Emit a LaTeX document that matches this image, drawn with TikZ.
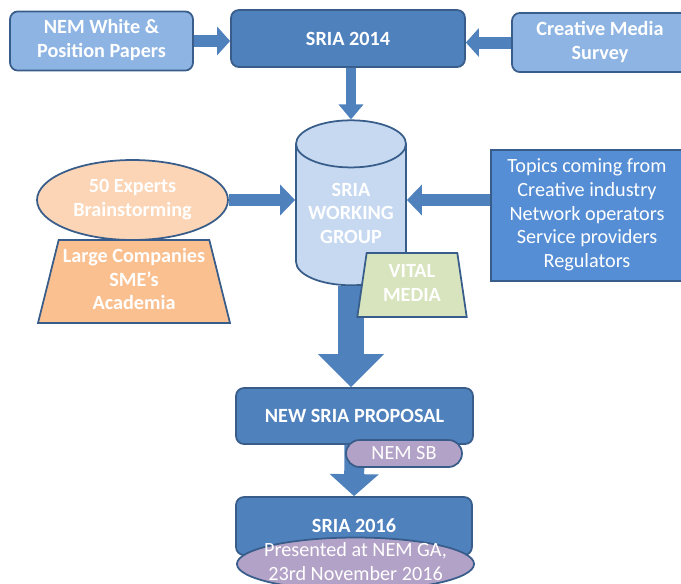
\documentclass[tikz,border=0pt]{standalone}
\usepackage{fontspec}
\setmainfont{Carlito}
\usetikzlibrary{shapes.geometric,shapes.misc,arrows.meta}
\definecolor{edgeblue}{HTML}{385D8A}
\definecolor{midblue}{HTML}{4F81BD}
\definecolor{lightblue}{HTML}{8EB4E3}
\definecolor{topicblue}{HTML}{558ED5}
\definecolor{paleblue}{HTML}{C6D9F1}
\definecolor{peach}{HTML}{FBD5B5}
\definecolor{orangefill}{HTML}{FAC090}
\definecolor{palegreen}{HTML}{D7E4BD}
\definecolor{lilac}{HTML}{B3A2C7}

\begin{document}
\begin{tikzpicture}[x=0.02cm,y=-0.02cm,
		box/.style={draw=edgeblue,line width=1pt,text=white,font=\bfseries\fontsize{11.5}{13.5}\selectfont,align=center},
		thin/.style={box,font=\fontsize{11.5}{13.5}\selectfont},
		barrow/.style args={#1/#2/#3}{draw=midblue,line width=#1,-{Triangle[width=#2,length=#3]}}]
			\useasboundingbox (0,0) rectangle (681,583);
			\clip (0,0) rectangle (681,583);
			\draw (101.5,41) node [box,fill=lightblue,rounded corners=4.5pt,minimum width=3.66cm,minimum height=1.16cm] (nem) {\begin{tabular}{c} NEM White \& \\ Position Papers \end{tabular}};
			\draw (348,38.5) node [box,fill=midblue,rounded corners=4.5pt,minimum width=4.68cm,minimum height=1.14cm] (s14) {SRIA 2014};
			\draw (600,42.5) node [box,fill=lightblue,rounded corners=4.5pt,minimum width=3.52cm,minimum height=1.18cm] (cms) {\begin{tabular}{c} Creative Media \\ Survey \end{tabular}};
			\draw (351,215) node [box,fill=paleblue,cylinder,shape border rotate=90,aspect=0.55,inner sep=0pt,minimum width=2.2cm,minimum height=3.3cm] (wg) {\begin{tabular}{@{}c@{}} SRIA \\ WORKING \\ GROUP \end{tabular}};
			\draw (132.5,200) node [box,fill=peach,ellipse,inner sep=0pt,minimum width=3.82cm,minimum height=1.6cm] (exp) {\begin{tabular}{@{}c@{}} 50 Experts \\ Brainstorming \end{tabular}};
			\draw (134,281.5) node [box,fill=orangefill,trapezium,trapezium stretches body,trapezium left angle=76,trapezium right angle=76,inner xsep=0pt,minimum width=3.84cm,minimum height=1.66cm] (lc) {\begin{tabular}{@{}c@{}} Large Companies \\ SME’s \\ Academia \end{tabular}};
			\draw (587,215.5) node [thin,fill=topicblue,minimum width=3.76cm,minimum height=2.54cm] (topics) {\begin{tabular}{c} Topics coming from \\ Creative industry \\ Network operators \\ Service providers \\ Regulators \end{tabular}};
			\draw (354.5,416) node [box,fill=midblue,rounded corners=4.5pt,minimum width=4.74cm,minimum height=1.12cm] (nsp) {NEW SRIA PROPOSAL};
			\draw (354,526) node [box,fill=midblue,rounded corners=4.5pt,minimum width=4.72cm,minimum height=1.16cm] (s16) {SRIA 2016};
			\path
				(nem.east) edge [barrow=0.24cm/0.56cm/0.26cm] (nem.east -| s14.west)
				(cms.west) edge [barrow=0.24cm/0.56cm/0.26cm] (cms.west -| s14.east)
				(s14.south -| wg) edge [barrow=0.2cm/0.48cm/0.3cm] (wg)
				(exp) edge [barrow=0.24cm/0.6cm/0.3cm] (exp -| wg.west)
				(topics.west |- exp) edge [barrow=0.24cm/0.6cm/0.3cm] (exp -| wg.east)
				(wg.south) edge [barrow=0.54cm/1.28cm/0.66cm] (wg.south |- nsp.north)
				(nsp.south) edge [barrow=0.4cm/0.96cm/0.44cm] (s16.north);
			\draw (412,285) node [box,fill=palegreen,trapezium,trapezium stretches body,trapezium left angle=81,trapezium right angle=81,minimum width=2.16cm,minimum height=1.28cm] (vm) {\begin{tabular}{c} VITAL \\ MEDIA \end{tabular}};
			\draw (404,453.5) node [thin,fill=lilac,rounded corners=0.27cm,minimum width=2.32cm,minimum height=0.54cm,inner ysep=0pt] (nsb) {NEM SB};
			\draw (355.5,564) node [thin,fill=lilac,ellipse,inner xsep=-0.15cm,inner ysep=-0.1cm,minimum width=4.74cm,minimum height=1.04cm] (pres) {\begin{tabular}{@{}c@{}} Presented at NEM GA, \\ 23rd November 2016 \end{tabular}};
		\end{tikzpicture}
\end{document}
